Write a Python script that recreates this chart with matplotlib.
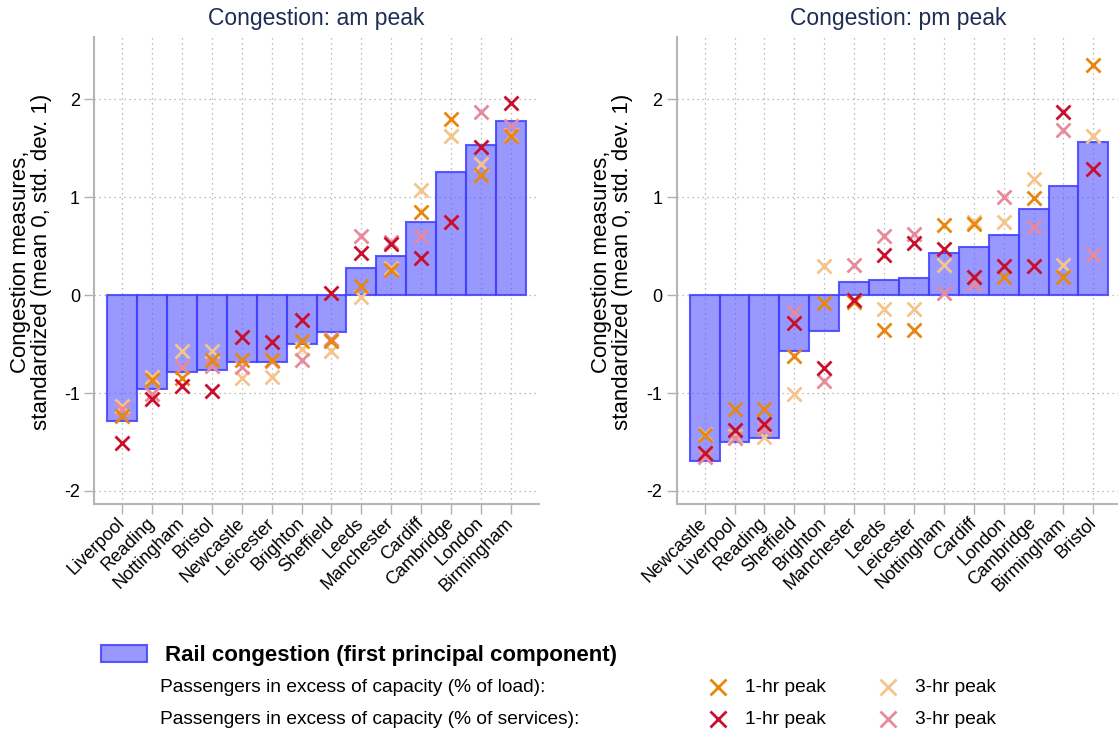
import matplotlib
matplotlib.use("Agg")
import matplotlib.pyplot as plt
from matplotlib.lines import Line2D
from matplotlib.patches import Rectangle

plt.rcParams["font.family"] = ["Liberation Sans", "DejaVu Sans"]

# am peak
am_cities = ["Liverpool", "Reading", "Nottingham", "Bristol", "Newcastle", "Leicester", "Brighton",
             "Sheffield", "Leeds", "Manchester", "Cardiff", "Cambridge", "London", "Birmingham"]
am_pc = [-1.29, -0.96, -0.79, -0.76, -0.68, -0.68, -0.50, -0.38, 0.28, 0.40, 0.75, 1.26, 1.53, 1.78]
am_load_1hr = [-1.23, -0.87, -0.85, -0.66, -0.66, -0.66, -0.47, -0.47, 0.09, 0.26, 0.85, 1.80, 1.23, 1.62]
am_load_3hr = [-1.13, -0.84, -0.57, -0.57, -0.85, -0.84, -0.55, -0.57, -0.02, 0.28, 1.07, 1.62, 1.34, 1.64]
am_serv_1hr = [-1.51, -1.06, -0.93, -0.98, -0.43, -0.48, -0.25, 0.02, 0.43, 0.52, 0.38, 0.75, 1.51, 1.96]
am_serv_3hr = [-1.16, -1.01, -0.73, -0.72, -0.73, -0.67, -0.66, -0.45, 0.60, 0.54, 0.60, 0.75, 1.87, 1.73]

# pm peak
pm_cities = ["Newcastle", "Liverpool", "Reading", "Sheffield", "Brighton", "Manchester", "Leeds",
             "Leicester", "Nottingham", "Cardiff", "London", "Cambridge", "Birmingham", "Bristol"]
pm_pc = [-1.69, -1.50, -1.46, -0.57, -0.37, 0.13, 0.15, 0.18, 0.43, 0.49, 0.61, 0.88, 1.11, 1.56]
pm_load_1hr = [-1.43, -1.16, -1.16, -0.62, -0.08, -0.07, -0.36, -0.36, 0.72, 0.73, 0.19, 0.99, 0.19, 2.35]
pm_load_3hr = [-1.42, -1.44, -1.45, -1.01, 0.30, -0.06, -0.14, -0.14, 0.31, 0.75, 0.75, 1.19, 0.31, 1.63]
pm_serv_1hr = [-1.61, -1.38, -1.32, -0.28, -0.74, -0.05, 0.41, 0.53, 0.47, 0.19, 0.30, 0.30, 1.87, 1.29]
pm_serv_3hr = [-1.65, -1.46, -1.37, -0.17, -0.88, 0.31, 0.60, 0.62, 0.02, 0.11, 1.00, 0.70, 1.69, 0.41]

c_load1 = "#e8870e"
c_load3 = "#f5c48a"
c_serv1 = "#c8102e"
c_serv3 = "#e68a9c"
bar_face = (0.35, 0.35, 1.0, 0.62)
bar_edge = (0.25, 0.25, 1.0, 0.85)
title_col = "#1f2d55"

fig = plt.figure(figsize=(11.18, 7.34), dpi=100)
W, H = 1118, 734


def panel(left_px, cities, pc, l1, l3, s1, s3, title):
    ax = fig.add_axes([left_px / W, (H - 504) / H, 445 / W, 467 / H])
    x = list(range(len(cities)))
    ax.bar(x, pc, width=1.0, color=bar_face, edgecolor=bar_edge, linewidth=1.5, zorder=2)
    for vals, col in [(l3, c_load3), (s3, c_serv3), (l1, c_load1), (s1, c_serv1)]:
        ax.plot(x, vals, linestyle="none", marker="x", markersize=10, markeredgewidth=2,
                color=col, zorder=3)
    ax.set_xlim(-0.94, len(cities) - 0.06)
    ax.set_ylim(-2.133, 2.636)
    ax.set_yticks([-2, -1, 0, 1, 2])
    ax.set_yticklabels(["-2", "-1", "0", "1", "2"], fontsize=13)
    ax.set_xticks(x)
    ax.set_xticklabels(cities, rotation=45, ha="right", va="center", rotation_mode="anchor",
                       fontsize=13)
    ax.tick_params(axis="both", color="#b0b0b0", length=7, width=1, pad=3)
    ax.tick_params(axis="x", pad=5)
    for s in ["top", "right"]:
        ax.spines[s].set_visible(False)
    for s in ["left", "bottom"]:
        ax.spines[s].set_color("#b5b5b5")
        ax.spines[s].set_linewidth(1.5)
    ax.grid(True, linestyle=(0, (1, 3)), color="#a8a8a8", linewidth=0.9, zorder=0)
    ax.set_axisbelow(True)
    fig.text((left_px + 222) / W, 1 - 18 / H, title, ha="center", va="center", fontsize=16.5,
             color=title_col)
    return ax


panel(94, am_cities, am_pc, am_load_1hr, am_load_3hr, am_serv_1hr, am_serv_3hr, "Congestion: am peak")
panel(676.5, pm_cities, pm_pc, pm_load_1hr, pm_load_3hr, pm_serv_1hr, pm_serv_3hr, "Congestion: pm peak")

ylab = "Congestion measures,\nstandardized (mean 0, std. dev. 1)"
for xpx in [31, 612]:
    fig.text(xpx / W, 1 - 262 / H, ylab, rotation=90, ha="center", va="center", fontsize=16,
             linespacing=0.95, multialignment="center")

# legend
fig.patches.append(Rectangle((101 / W, 1 - 662 / H), 46 / W, 17 / H, transform=fig.transFigure,
                             facecolor=bar_face, edgecolor=bar_edge, linewidth=1.5))
fig.text(165 / W, 1 - 655 / H, "Rail congestion (first principal component)", fontsize=16,
         fontweight="bold", va="center", ha="left")
rows = [("Passengers in excess of capacity (% of load):", c_load1, c_load3, 687),
        ("Passengers in excess of capacity (% of services):", c_serv1, c_serv3, 719)]
for label, c1, c3, ypx in rows:
    yf = 1 - ypx / H
    fig.text(160 / W, yf, label, fontsize=13.8, va="center", ha="left")
    for mx, col in [(718, c1), (888, c3)]:
        fig.lines.append(Line2D([mx / W], [yf], transform=fig.transFigure, marker="x", markersize=11,
                                markeredgewidth=2, color=col, linestyle="none"))
    fig.text(745 / W, yf, "1-hr peak", fontsize=13.8, va="center", ha="left")
    fig.text(915 / W, yf, "3-hr peak", fontsize=13.8, va="center", ha="left")

fig.savefig("out.png", dpi=100)
